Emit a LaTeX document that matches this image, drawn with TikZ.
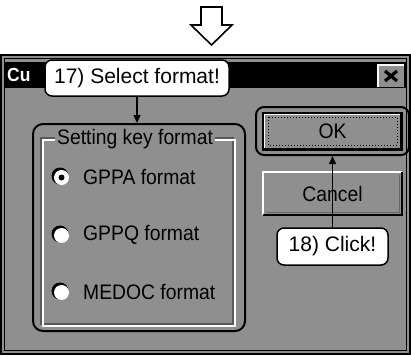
\documentclass[tikz,border=0pt]{standalone}
\usepackage{fontspec}
\usepackage{graphicx}
\setmainfont{Liberation Sans}
\usetikzlibrary{arrows.meta}
\definecolor{dither}{gray}{0.56}
\newcommand{\nar}[1]{\scalebox{0.92}[1]{#1}}
\begin{document}
\begin{tikzpicture}[x=1pt,y=-1pt,
  callout/.style={draw=black, line width=1.5pt, fill=white, rounded corners=7pt, inner sep=0pt, font=\fontsize{21}{21}\selectfont},
  dlg/.style={inner sep=0pt, font=\fontsize{21}{21}\selectfont},
  ptr/.style={line width=1.3pt, -{Triangle[length=8pt,width=7pt]}},
  radiodark/.style={circle, fill=black, minimum size=17pt, inner sep=0pt},
  radiowhite/.style={circle, fill=white, minimum size=15pt, inner sep=0pt},
]
\useasboundingbox (0,0) rectangle (411,356);
% hollow arrow at top
\draw[line width=1.6pt, fill=white, line join=miter] (201,7) -- (222,7) -- (222,25) -- (232,25) -- (211.5,45) -- (191,25) -- (201,25) -- cycle;
% dialog window
\fill[dither] (1,55) rectangle (410,354);
\draw[line width=2pt] (1,55) rectangle (410,354);
\draw[line width=0.8pt] (4.5,58.5) rectangle (406.5,350.5);
% title bar
\fill[black] (5,62) rectangle (406,88);
\node[anchor=west, inner sep=0pt, text=white, font=\fontsize{19}{19}\selectfont\bfseries] (cu) at (7,75) {\nar{Cu}};
% close button
\node[fill=dither, minimum width=26pt, minimum height=22pt, inner sep=0pt] (close) at (391,76) {};
\draw[white, line width=1.5pt] (close.south west) -- (close.north west) -- (close.north east);
\draw[line width=3.2pt] (close.center) ++(-6,-5) -- ++(12,10);
\draw[line width=3.2pt] (close.center) ++(6,-5) -- ++(-12,10);
% callout 17
\node[callout, minimum width=184pt, minimum height=36pt] (c17) at (137,78) {17) Select format!};
% group box outline
\node[draw, line width=2pt, rounded corners=10pt, minimum width=212pt, minimum height=207pt, inner sep=0pt] (grp) at (139,227.5) {};
\draw[black!65, line width=1.2pt] (41,138) rectangle (233,324);
\draw[white, line width=1.2pt] (43,140) rectangle (235,326);
\node[dlg, anchor=west, fill=dither, inner xsep=2pt] (glabel) at (55,139) {\nar{Setting key format}};
\draw[ptr] (c17.south) -- (c17.south |- grp.north);
% radio buttons
\node[radiodark] at (60,176) {};
\node[radiowhite] (r1) at (61.5,177.5) {};
\node[circle, fill=black, minimum size=6pt, inner sep=0pt] (dot) at (r1) {};
\node[dlg, anchor=west] (l1) at (83,177) {\nar{GPPA format}};
\node[radiodark] at (60,234) {};
\node[radiowhite] (r2) at (61.5,235.5) {};
\node[dlg, anchor=west] (l2) at (83,235) {\nar{GPPQ format}};
\node[radiodark] at (60,291) {};
\node[radiowhite] (r3) at (61.5,292.5) {};
\node[dlg, anchor=west] (l3) at (83,292) {\nar{MEDOC format}};
% OK button
\node[draw, line width=2pt, rounded corners=8pt, minimum width=153pt, minimum height=48pt, inner sep=0pt] (okout) at (332.5,131) {};
\node[draw, line width=2pt, fill=dither, minimum width=139pt, minimum height=37pt, inner sep=0pt, dlg] (ok) at (332.5,131.5) {\nar{OK}};
\draw[white, line width=1pt] ([shift={(2,-2)}]ok.south west) -- ([shift={(2,2)}]ok.north west) -- ([shift={(-2,2)}]ok.north east);
\draw[black, line width=1.5pt] ([shift={(-2.5,2)}]ok.north east) -- ([shift={(-2.5,-2.5)}]ok.south east) -- ([shift={(2,-2.5)}]ok.south west);
\draw[dotted, line width=1pt] (268,117) rectangle (397,145);
% Cancel button
\node[fill=dither, minimum width=139pt, minimum height=43pt, inner sep=0pt, dlg] (cancel) at (332.5,193.5) {\nar{Cancel}};
\draw[white, line width=2pt] (cancel.south west) -- (cancel.north west) -- (cancel.north east);
\draw[black, line width=2pt] (cancel.north east) -- (cancel.south east) -- (cancel.south west);
\draw[black!60, line width=1pt] ([shift={(-3,3)}]cancel.north east) -- ([shift={(-3,-3)}]cancel.south east) -- ([shift={(3,-3)}]cancel.south west);
% callout 18
\node[callout, minimum width=111pt, minimum height=37pt] (c18) at (332.5,246.5) {18) Click!};
\draw[ptr] (c18.north) -- (okout.south);
\end{tikzpicture}
\end{document}
